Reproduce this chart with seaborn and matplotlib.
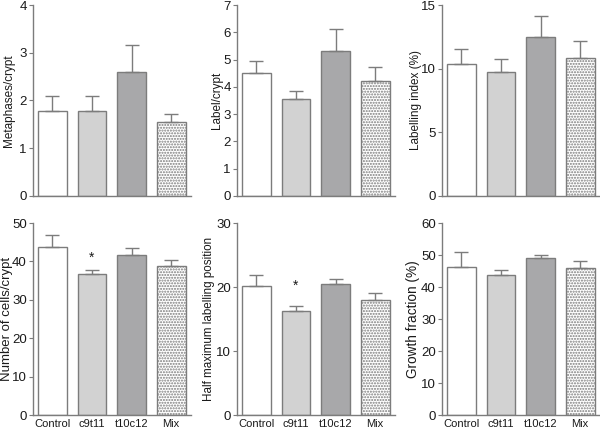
import matplotlib
matplotlib.use("Agg")
import matplotlib.pyplot as plt
import seaborn as sns
import pandas as pd
import numpy as np

groups = ["Control", "c9t11", "t10c12", "Mix"]

metaphases = [1.77, 1.77, 2.59, 1.54]
metaphases_top = [2.09, 2.09, 3.16, 1.72]
label_crypt = [4.49, 3.55, 5.32, 4.23]
label_crypt_top = [4.93, 3.85, 6.11, 4.73]
labelling_index = [10.4, 9.77, 12.52, 10.87]
labelling_index_top = [11.55, 10.77, 14.16, 12.18]
cells = [43.65, 36.7, 41.6, 38.9]
cells_top = [46.8, 37.7, 43.5, 40.3]
half_max = [20.1, 16.2, 20.4, 18.0]
half_max_top = [21.9, 17.0, 21.2, 19.0]
growth = [46.4, 43.6, 49.06, 45.9]
growth_top = [50.8, 45.2, 50.1, 48.0]

ylabels = ["Metaphases/crypt", "Label/crypt", "Labelling index (%)",
           "Number of cells/crypt", "Half maximum labelling position", "Growth fraction (%)"]
ymax = [4, 7, 15, 50, 30, 60]
ystep = [1, 1, 5, 10, 10, 10]
stars = [None, None, None, 40.9, 20.2, None]

colors = ["#ffffff", "#d2d2d2", "#a8a8aa", "#ffffff"]
edge = "#7c7c7c"

means = [metaphases, label_crypt, labelling_index, cells, half_max, growth]
tops = [metaphases_top, label_crypt_top, labelling_index_top, cells_top, half_max_top, growth_top]

sns.set_theme(style="ticks")
plt.rcParams["font.family"] = ["Liberation Sans", "DejaVu Sans"]
plt.rcParams["hatch.color"] = "#8a8a8a"
plt.rcParams["hatch.linewidth"] = 1.0

fig = plt.figure(figsize=(6, 4.3), dpi=100)
W, H = 600, 430
lefts = [33, 237, 442]
rows = [(5, 196), (223, 415)]
axw = 158
label_sizes = [8.5, 8.5, 8.5, 9.5, 8.4, 9.8]
label_offsets = [-18, -14, -20, -20, -22, -22]  # px from axis to label right edge

for i in range(6):
    r, c = divmod(i, 3)
    top, bot = rows[r]
    ax = fig.add_axes([lefts[c] / W, (H - bot) / H, axw / W, (bot - top) / H])
    df = pd.DataFrame({"group": groups, "value": means[i]})
    sns.barplot(data=df, x="group", y="value", hue="group", palette=colors,
                edgecolor=edge, linewidth=1.0, width=0.73, legend=False, ax=ax,
                order=groups, hue_order=groups)
    for j, p in enumerate(ax.patches):
        if j == 3:
            p.set_hatch("......")
    err = np.array(tops[i]) - np.array(means[i])
    ax.errorbar(np.arange(4), means[i], yerr=[np.zeros(4), err], fmt="none",
                ecolor=edge, elinewidth=1.0, capsize=5, capthick=1.0, zorder=1)
    ax.set_ylim(0, ymax[i])
    ax.set_xlim(-0.49, 3.5)
    ax.set_yticks(np.arange(0, ymax[i] + 0.01, ystep[i]))
    ax.set_ylabel(ylabels[i], fontsize=label_sizes[i], color="#1a1a1a")
    ax.yaxis.set_label_coords(label_offsets[i] / axw, 0.5)
    ax.set_xlabel("")
    if r == 0:
        ax.set_xticks([])
    else:
        ax.set_xticks(range(4))
        ax.set_xticklabels(groups)
    ax.tick_params(axis="x", length=0, labelsize=8, colors="#1a1a1a", pad=3)
    ax.tick_params(axis="y", length=3, width=0.8, color=edge, labelsize=9.5,
                   labelcolor="#1a1a1a", pad=1.5)
    for s in ["top", "right"]:
        ax.spines[s].set_visible(False)
    for s in ["left", "bottom"]:
        ax.spines[s].set_color(edge)
        ax.spines[s].set_linewidth(1.0)
    if stars[i] is not None:
        ax.text(1, stars[i], "*", ha="center", va="center", fontsize=10, color="#1a1a1a")

fig.savefig("out.png", dpi=100)
